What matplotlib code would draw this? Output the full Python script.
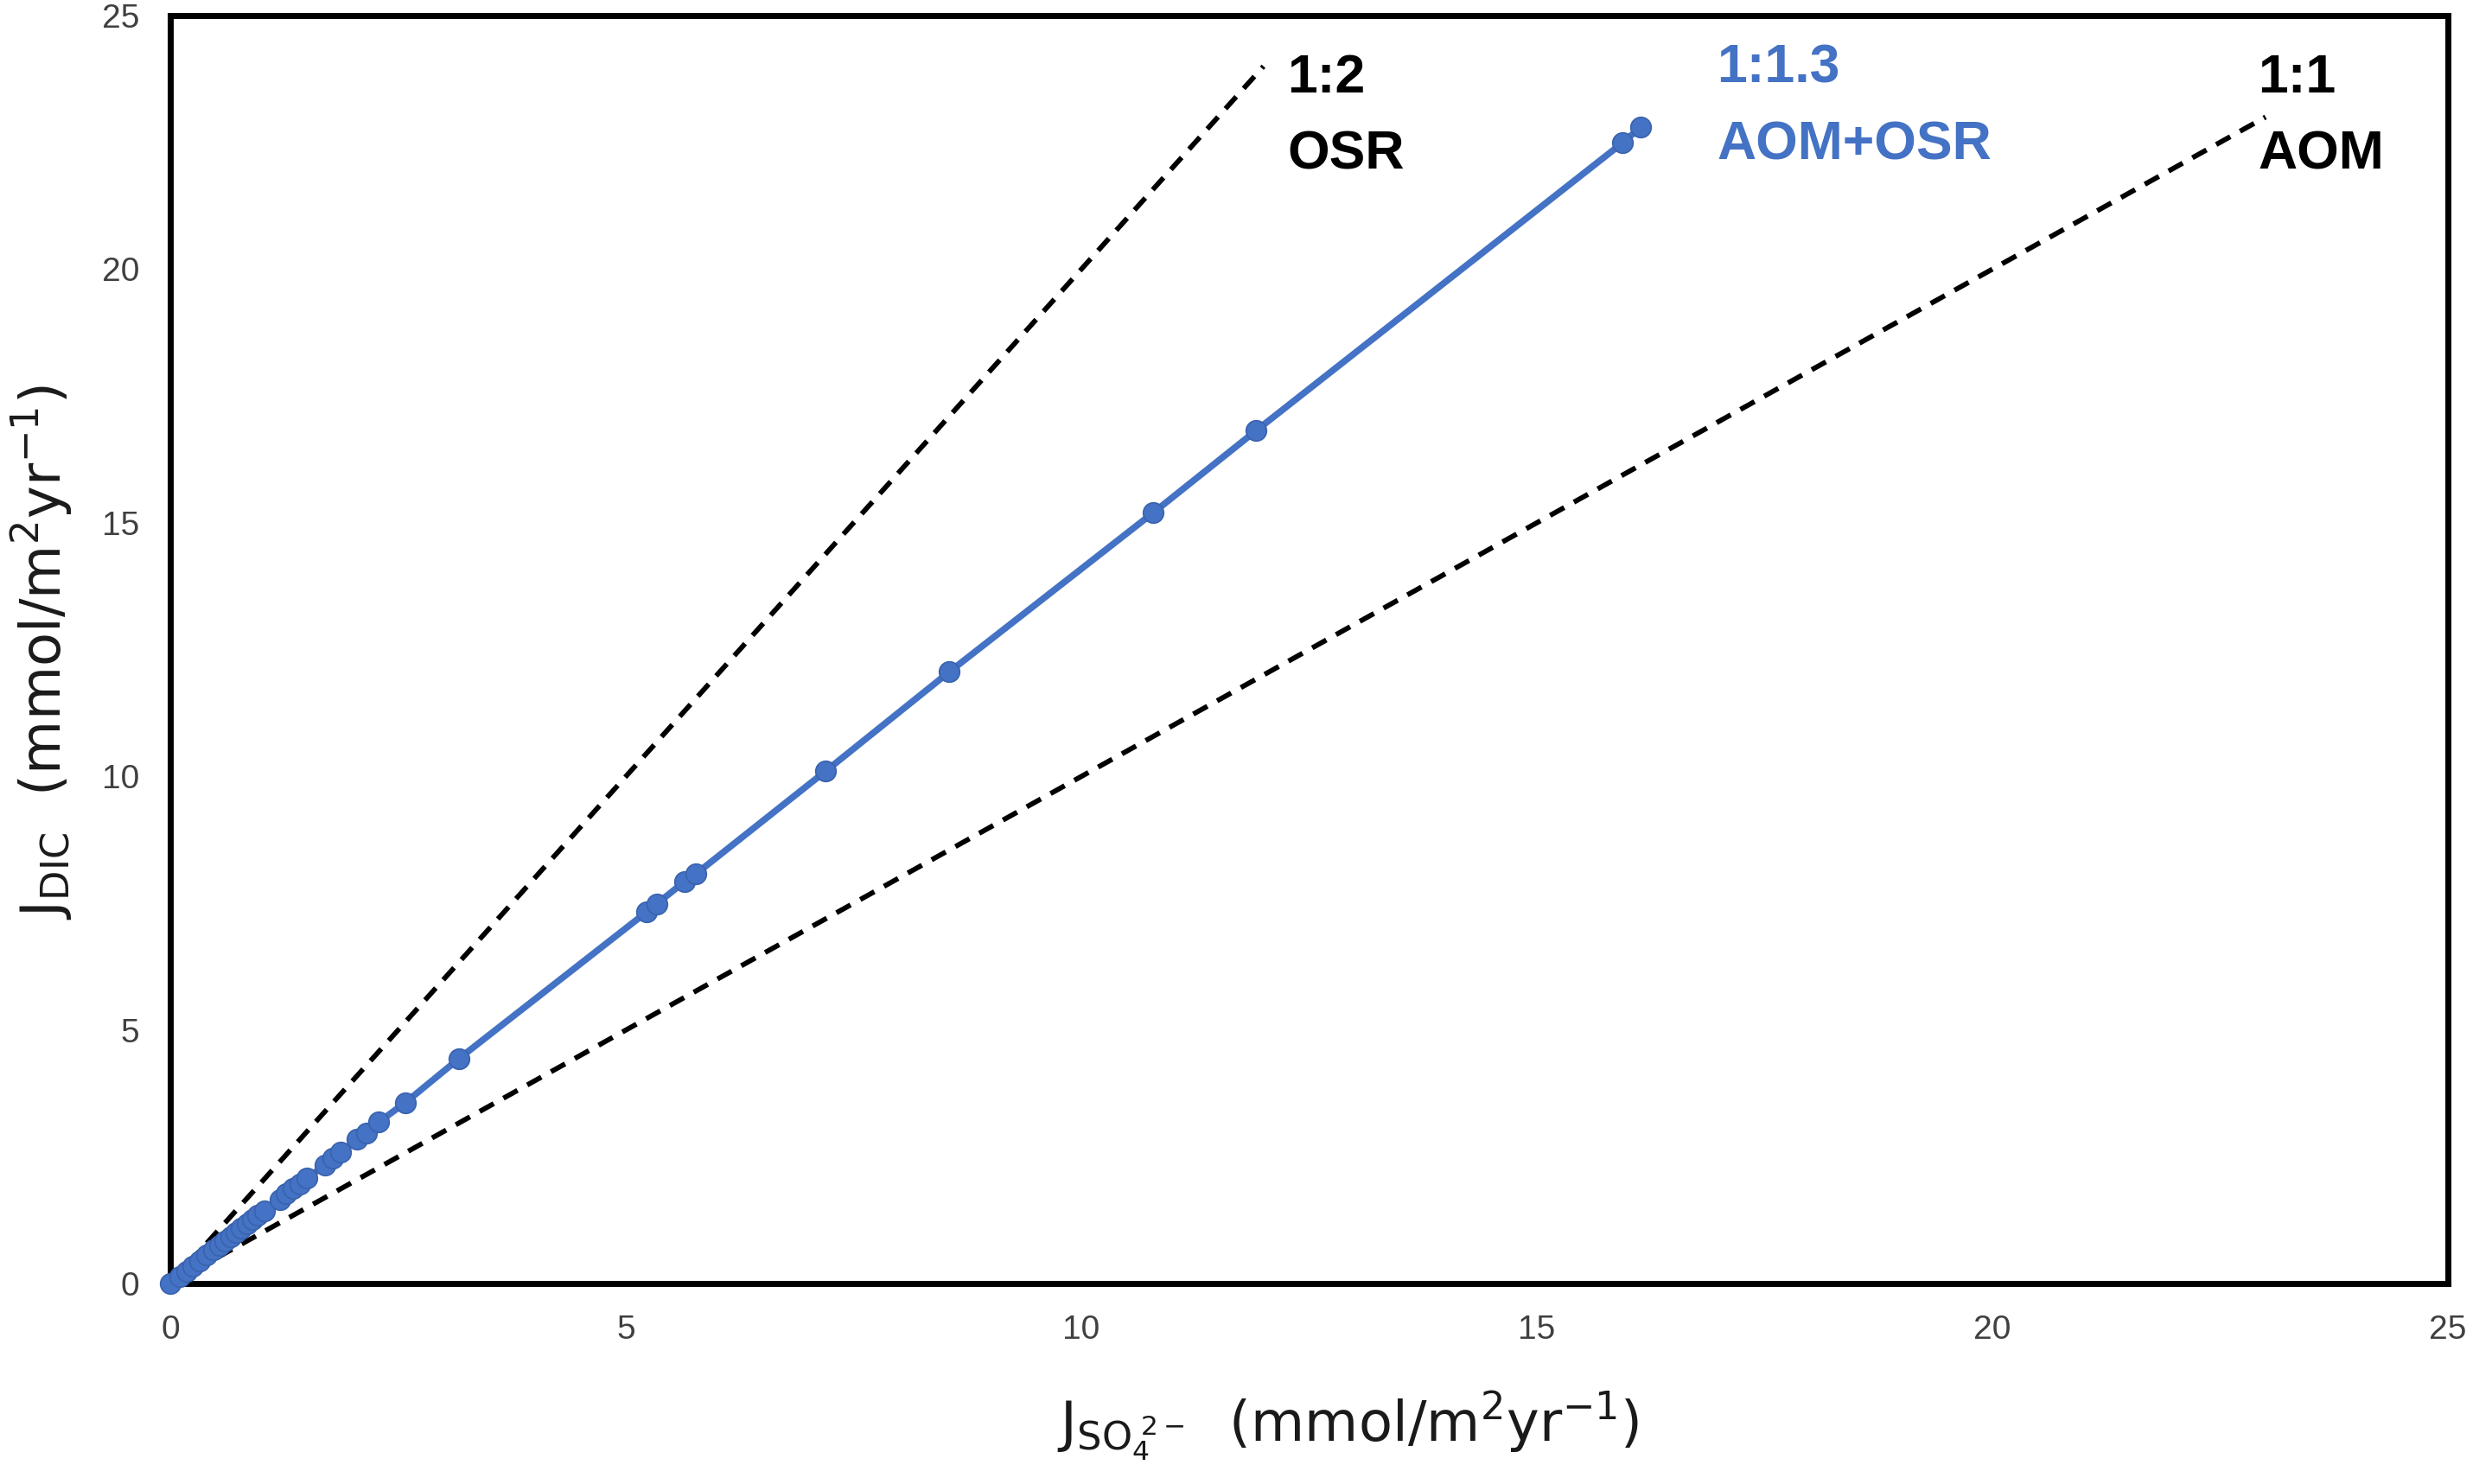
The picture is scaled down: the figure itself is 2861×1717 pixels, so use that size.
import matplotlib
matplotlib.use("Agg")
from matplotlib import pyplot as plt

# sulfate flux vs DIC flux
j_so4 = [0.00, 0.10, 0.18, 0.25, 0.32, 0.40, 0.47, 0.54, 0.60, 0.66, 0.72, 0.78,
         0.84, 0.90, 0.96, 1.03, 1.20, 1.27, 1.35, 1.42, 1.50, 1.70, 1.78, 1.87,
         2.05, 2.15, 2.29, 2.58, 3.17, 5.23, 5.34, 5.64, 5.77, 7.19, 8.55, 10.79,
         11.92, 15.94, 16.14]
j_dic = [0.00, 0.14, 0.25, 0.35, 0.45, 0.56, 0.66, 0.76, 0.84, 0.93, 1.01, 1.10,
         1.18, 1.26, 1.35, 1.44, 1.66, 1.77, 1.88, 1.97, 2.08, 2.34, 2.48, 2.60,
         2.85, 2.97, 3.19, 3.57, 4.44, 7.33, 7.49, 7.92, 8.08, 10.10, 12.06, 15.20,
         16.82, 22.49, 22.80]

# reference stoichiometry lines
osr_x = [0, 12]
osr_y = [0, 24]
aom_x = [0, 23]
aom_y = [0, 23]

ticks = [0, 5, 10, 15, 20, 25]

blue = "#4472C4"
tick_color = "#404040"

fig = plt.figure(figsize=(28.61, 17.17), dpi=100)
ax = fig.add_axes([0.0689, 0.135, 0.9209, 0.8545])

ax.plot(osr_x, osr_y, color="black", lw=4.2, dashes=(3.2, 2.2))
ax.plot(aom_x, aom_y, color="black", lw=4.2, dashes=(3.2, 2.2))
ax.plot(j_so4, j_dic, color=blue, lw=5.5, marker="o", markersize=17,
        markerfacecolor=blue, markeredgecolor="#3a62ad", markeredgewidth=1.2,
        zorder=3, clip_on=False)

ax.set_xlim(0, 25)
ax.set_ylim(0, 25)
ax.set_xticks(ticks)
ax.set_yticks(ticks)
ax.tick_params(length=0, pad=26, labelsize=28, labelcolor=tick_color)
for lab in ax.get_xticklabels() + ax.get_yticklabels():
    lab.set_family(["Liberation Sans", "DejaVu Sans"])

for side in ["left", "right", "top", "bottom"]:
    ax.spines[side].set_linewidth(5)
    ax.spines[side].set_color("black")

label_font = {"family": "DejaVu Sans", "size": 46, "color": "#1a1a1a"}
ax.set_xlabel(r"$\mathregular{J_{SO_4^{\ 2-}}}$  (mmol/m$^2$yr$^{-1}$)", fontdict=label_font)
ax.set_ylabel(r"$\mathregular{J_{DIC}}$  (mmol/m$^2$yr$^{-1}$)", fontdict=label_font)
ax.xaxis.set_label_coords(0.517, -0.083)
ax.yaxis.set_label_coords(-0.042, 0.498)

ann_family = ["Liberation Sans", "DejaVu Sans"]
ax.text(12.26, 24.27, "1:2\nOSR", color="black", fontsize=45, fontweight="bold",
        family=ann_family, ha="left", va="top", linespacing=1.65)
ax.text(16.98, 24.47, "1:1.3\nAOM+OSR", color=blue, fontsize=45, fontweight="bold",
        family=ann_family, ha="left", va="top", linespacing=1.65)
ax.text(22.92, 24.27, "1:1\nAOM", color="black", fontsize=45, fontweight="bold",
        family=ann_family, ha="left", va="top", linespacing=1.65)

fig.savefig("out.png", dpi=100)
